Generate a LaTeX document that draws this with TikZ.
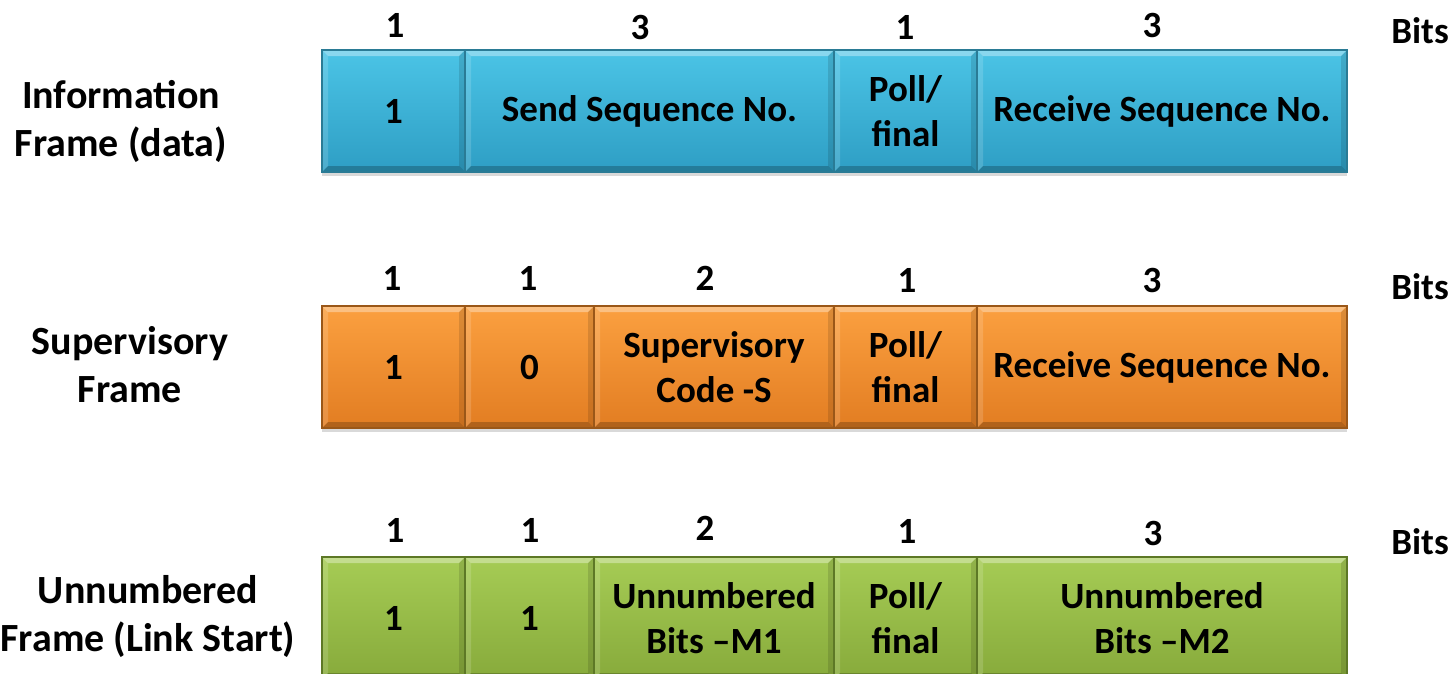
\documentclass[tikz,border=0pt]{standalone}
\usepackage{fontspec}
\setmainfont{Carlito}
\usetikzlibrary{shadows}
\definecolor{bluetop}{HTML}{4BC4E6}
\definecolor{bluebot}{HTML}{2E9EC4}
\definecolor{blueline}{HTML}{2A7B95}
\definecolor{orgtop}{HTML}{FBA040}
\definecolor{orgbot}{HTML}{E27D22}
\definecolor{orgline}{HTML}{9A5718}
\definecolor{grntop}{HTML}{A6CC55}
\definecolor{grnbot}{HTML}{87AA3B}
\definecolor{grnline}{HTML}{5D7826}
\newcommand\bevdepth{6pt}
\tikzset{
  txt/.style={inner sep=0pt, align=center, font=\bfseries\fontsize{37}{45}\selectfont},
  lbl/.style={inner sep=0pt, align=center, font=\bfseries\fontsize{40}{48}\selectfont},
  cellbox/.style={rectangle, txt, line width=1.2pt,
    drop shadow={shadow xshift=0pt, shadow yshift=-4pt, opacity=0.15, fill=black},
    path picture={
      \fill[white,opacity=0.35] (path picture bounding box.north west) -- (path picture bounding box.north east)
        -- ([xshift=-\bevdepth,yshift=-\bevdepth]path picture bounding box.north east)
        -- ([xshift=\bevdepth,yshift=-\bevdepth]path picture bounding box.north west) -- cycle;
      \fill[white,opacity=0.15] (path picture bounding box.north west) -- (path picture bounding box.south west)
        -- ([xshift=\bevdepth,yshift=\bevdepth]path picture bounding box.south west)
        -- ([xshift=\bevdepth,yshift=-\bevdepth]path picture bounding box.north west) -- cycle;
      \fill[black,opacity=0.12] (path picture bounding box.north east) -- (path picture bounding box.south east)
        -- ([xshift=-\bevdepth,yshift=\bevdepth]path picture bounding box.south east)
        -- ([xshift=-\bevdepth,yshift=-\bevdepth]path picture bounding box.north east) -- cycle;
      \fill[black,opacity=0.22] (path picture bounding box.south west) -- (path picture bounding box.south east)
        -- ([xshift=-\bevdepth,yshift=\bevdepth]path picture bounding box.south east)
        -- ([xshift=\bevdepth,yshift=\bevdepth]path picture bounding box.south west) -- cycle;
    }},
  bluecell/.style={cellbox, top color=bluetop, bottom color=bluebot, draw=blueline},
  orgcell/.style={cellbox, top color=orgtop, bottom color=orgbot, draw=orgline},
  grncell/.style={cellbox, top color=grntop, bottom color=grnbot, draw=grnline},
}
\newcommand\fcell[7]{\node[#6, minimum width={(#3-#2)*1pt}, minimum height={(#5-#4)*1pt}] (#1) at ({(#2+#3)/2},{(#4+#5)/2}) {#7};}
\begin{document}
\begin{tikzpicture}[x=1pt,y=-1pt]
\useasboundingbox (0,0) rectangle (1455,673);
\clip (0,0) rectangle (1455,673);
% ---------- Information frame
\node[lbl] (linfo) at (121,121) {Information\\Frame (data)};
\fcell{i1}{322}{465}{50}{172}{bluecell}{1}
\fcell{i2}{465}{834}{50}{172}{bluecell}{Send Sequence No.}
\fcell{i3}{834}{977}{50}{172}{bluecell}{Poll/\\final}
\fcell{i4}{977}{1347}{50}{172}{bluecell}{Receive Sequence No.}
\node[txt] (ni1) at (395,25) {1};
\node[txt] (ni2) at (640,27) {3};
\node[txt] (ni3) at (905,27) {1};
\node[txt] (ni4) at (1152,25) {3};
\node[txt] (bits1) at (1420,31) {Bits};
% ---------- Supervisory frame
\node[lbl] (lsup) at (130,365) {Supervisory\\Frame};
\fcell{s1}{322}{465}{306}{428}{orgcell}{1}
\fcell{s2}{465}{594}{306}{428}{orgcell}{0}
\fcell{s3}{594}{834}{306}{428}{orgcell}{Supervisory\\Code -S}
\fcell{s4}{834}{977}{306}{428}{orgcell}{Poll/\\final}
\fcell{s5}{977}{1347}{306}{428}{orgcell}{Receive Sequence No.}
\node[txt] (ns1) at (392,278) {1};
\node[txt] (ns2) at (528,278) {1};
\node[txt] (ns3) at (705,278) {2};
\node[txt] (ns4) at (907,280) {1};
\node[txt] (ns5) at (1152,280) {3};
\node[txt] (bits2) at (1420,287) {Bits};
% ---------- Unnumbered frame
\node[lbl] (lunn) at (148,616) {Unnumbered\\Frame (Link Start)};
\fcell{u1}{322}{465}{557}{679}{grncell}{1}
\fcell{u2}{465}{594}{557}{679}{grncell}{1}
\fcell{u3}{594}{834}{557}{679}{grncell}{Unnumbered\\Bits \textendash M1}
\fcell{u4}{834}{977}{557}{679}{grncell}{Poll/\\final}
\fcell{u5}{977}{1347}{557}{679}{grncell}{Unnumbered\\Bits \textendash M2}
\node[txt] (nu1) at (395,530) {1};
\node[txt] (nu2) at (530,530) {1};
\node[txt] (nu3) at (705,528) {2};
\node[txt] (nu4) at (907,531) {1};
\node[txt] (nu5) at (1153,533) {3};
\node[txt] (bits3) at (1420,542) {Bits};
\end{tikzpicture}
\end{document}
